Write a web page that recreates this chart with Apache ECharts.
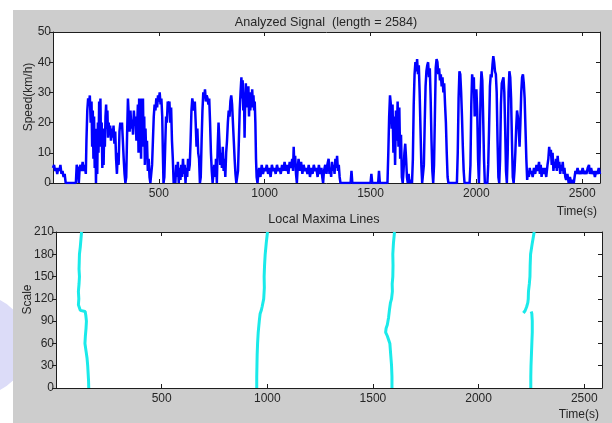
<!DOCTYPE html>
<html><head><meta charset="utf-8">
<script src="https://cdn.jsdelivr.net/npm/echarts@6/dist/echarts.min.js"></script>
<style>html,body{margin:0;padding:0;background:#fff}#c{width:612px;height:423px}</style>
</head><body><div id="c"></div>
<script>
// ---------- DATA ----------
// Analyzed signal: time (s) and speed (km/h)
const signalTime = [
0,5,10,15,20,25,30,35,40,45,50,55,60,108,112,118,122,126,130,135,140,145,150,155,
158,162,166,170,174,178,182,185,188,191,194,197,200,203,206,209,212,215,218,221,224,227,230,233,236,239,
242,245,248,251,254,257,260,263,266,270,274,278,282,286,290,294,298,302,306,310,314,318,322,326,330,334,338,342,346,350,354,358,
362,366,370,374,378,382,386,390,394,398,401,404,407,410,413,416,419,422,425,428,431,434,437,
440,444,448,452,456,460,464,468,472,476,480,484,488,492,496,500,504,508,512,516,519,522,526,530,
534,538,542,546,550,554,558,562,566,570,574,578,582,586,590,594,598,602,606,610,614,618,622,626,630,634,638,642,646,
650,654,658,662,666,670,674,678,682,686,690,694,698,702,706,710,714,718,722,726,730,734,738,742,746,750,754,758,
762,766,770,774,778,782,786,790,794,798,802,806,810,814,818,822,826,830,834,838,842,846,850,854,858,862,866,870,874,
878,882,886,890,893,896,899,902,905,908,911,914,917,920,923,926,929,932,935,938,941,944,947,950,953,956,959,962,966,970,
974,980,986,992,998,1004,1010,1016,1022,1028,1034,1040,1046,1052,1058,1064,1070,1076,1082,1088,1094,1100,1106,1112,1118,1124,1130,1134,1137,1140,1144,1148,1152,1156,1160,1166,
1172,1178,1184,1190,1196,1202,1208,1214,1220,1226,1232,1238,1244,1250,1256,1262,1268,1272,1276,1280,1286,1292,1296,1302,1306,1310,1314,1318,1322,1326,1330,1334,1338,1342,1346,1350,1354,1358,
1406,1410,1414,1500,1504,1508,1536,1540,1544,1580,1584,1588,1592,1596,
1600,1604,1608,1612,1616,1620,1624,1628,1632,1636,1640,1644,1648,1652,1656,1660,1664,1668,1672,1676,1680,1684,1690,1696,
1700,1704,1708,1712,1716,1720,1724,1728,1732,1736,1740,1744,1748,1752,1756,1760,1764,1768,1772,1776,1780,1784,1788,1792,1796,
1800,1804,1808,1812,1816,1820,1824,1828,1832,1836,1840,1844,1848,1852,1856,1860,1864,1868,1908,1912,1916,1920,1924,1928,1932,1936,1940,1944,
1968,1972,1976,1980,1984,1988,1992,1996,2000,2004,2008,2012,2016,2020,2024,2028,2032,2036,2040,
2052,2056,2060,2064,2068,2072,2076,2080,2084,2088,2092,2096,2100,2104,2108,2112,2116,2120,2124,2128,2132,2136,2140,2144,
2148,2152,2156,2160,2164,2168,2172,2176,2180,2184,2188,2192,2196,2200,2204,2208,2212,2216,2220,2224,2228,2232,2236,2240,
2244,2248,2252,2256,2260,2266,2272,2278,2284,2290,2296,2300,2304,2308,2312,2318,2324,2330,2336,
2340,2344,2348,2352,2356,2360,2364,2368,2372,2376,2380,2384,2388,2392,2396,2400,2404,2408,2412,2416,
2420,2424,2430,2436,2442,2448,2454,2460,2464,2468,2472,2478,2484,2490,2496,2502,2508,2514,2520,2526,2532,2536,2542,2548,2554,2560,2566,2572,2578,2584
];
const signalSpeed = [
5,6,4,5,3,5,4,6,3,4,2,3,0,0,6,4,0,5,6,4,7,4,6,3,
14,24,28,26,29,20,27,12,24,8,22,5,18,0,14,3,20,10,27,15,28,12,20,5,14,6,
18,12,22,26,18,24,15,20,16,19,14,18,15,19,13,17,8,3,10,6,17,20,18,20,14,8,3,0,2,16,28,22,
17,24,18,21,16,24,19,22,14,20,26,10,28,16,24,8,28,18,28,12,22,6,18,
10,14,4,8,2,0,0,6,14,22,26,24,28,25,29,27,30,26,28,22,10,0,2,12,
22,20,27,24,27,20,25,14,8,0,3,0,6,2,7,0,5,1,6,2,8,3,6,0,5,2,8,4,6,
14,24,28,26,24,27,20,12,18,10,8,0,2,14,24,30,28,31,27,29,28,26,28,20,10,4,0,0,
6,2,8,0,12,20,14,6,10,5,12,4,8,2,10,14,20,24,22,27,29,26,20,14,8,3,0,0,4,
14,24,30,35,28,34,24,30,15,28,33,25,31,26,32,22,30,24,28,25,31,26,29,24,27,20,8,2,0,3,
5,2,6,3,5,4,6,3,5,2,6,4,5,3,6,4,5,3,6,4,7,4,6,3,7,5,8,4,12,6,9,3,0,5,8,4,
7,3,6,4,5,3,6,2,5,3,6,4,5,2,6,3,5,2,0,4,6,3,6,8,3,5,2,7,4,6,3,8,5,9,4,6,2,0,
0,4,0,0,3,0,0,4,0,0,10,22,29,26,
18,26,10,22,6,24,14,27,12,25,8,16,2,0,4,10,13,8,2,0,3,0,1,0,
8,26,36,40,37,41,36,39,30,18,6,0,0,6,20,32,37,39,40,35,38,28,14,4,0,
6,22,38,41,40,36,38,34,36,32,35,30,33,26,20,10,2,0,0,10,28,37,36,30,22,12,4,0,
0,6,26,36,33,35,22,28,31,24,8,0,12,30,37,34,22,8,0,
0,6,18,32,36,35,39,42,40,37,36,30,14,2,0,8,26,33,34,35,30,18,4,0,
10,30,37,35,28,14,2,0,4,10,18,24,22,18,12,20,30,35,36,33,28,18,8,1,
4,2,5,3,4,2,5,3,6,4,7,3,6,2,5,3,5,2,6,
8,12,9,11,6,10,4,7,5,8,4,9,5,7,3,6,4,7,3,5,
2,1,3,0,2,0,1,0,2,4,3,5,3,4,3,5,3,4,3,5,6,3,5,3,4,2,4,3,5,3
];
// Local maxima lines: scale and time (s)
const ridge1Scale = [0,10,20,30,40,50,60,70,80,90,98,103,104.5,106,112,120,130,140,150,160,170,180,190,200,210];
const ridge1Time  = [155,154,152,150,147,142,137,139,142,144,141,138,115,106,106,108,106,109,111,109,110,111,115,118,121];
const ridge2Scale = [0,15,30,45,60,75,90,100,105,110,120,135,150,165,180,195,210];
const ridge2Time  = [950,950,951,952,954,957,962,966,972,976,983,986,985,987,990,995,1001];
const ridge3Scale = [0,15,30,45,60,70,75,80,85,95,105,115,120,130,140,150,165,180,195,210];
const ridge3Time  = [1590,1590,1588,1584,1580,1568,1560,1562,1568,1574,1578,1583,1588,1592,1591,1594,1595,1594,1597,1602];
const ridge4aScale = [0,15,30,45,60,75,90,100,103];
const ridge4aTime  = [2247,2247,2248,2250,2252,2254,2254,2252,2249];
const ridge4bScale = [101,104,109,115,120,130,140,150,165,180,195,210];
const ridge4bTime  = [2212,2220,2227,2233,2235,2236,2240,2243,2244,2246,2254,2263];
// Tick settings
const timeTicks = [500,1000,1500,2000,2500];
const speedMax = 50, speedStep = 10;
const scaleMax = 210, scaleStep = 30;
const signalLength = 2584;

// ---------- CHART ----------
const FONT = '"Liberation Sans", Arial, sans-serif';
const AX = '#1e1e1e';
const TXT = '#262626';
function pairs(xs, ys) { return xs.map((x, i) => [x, ys[i]]); }

const grids = [
  {left: 53, top: 32, width: 547, height: 151},
  {left: 56, top: 232, width: 546, height: 156}
];
const txt = {color: TXT, fontSize: 12, fontFamily: FONT};

function xAxes(gi, namePad) {
  const base = {type: 'value', gridIndex: gi, min: 0, max: signalLength, interval: 500,
    splitLine: {show: false}, axisLine: {show: true, onZero: false, lineStyle: {color: AX, width: 1}},
    axisTick: {inside: true, length: 4, lineStyle: {color: AX}}};
  return [
    Object.assign({}, base, {position: 'bottom',
      axisLabel: Object.assign({margin: 5, formatter: v => timeTicks.includes(v) ? String(v) : ''}, txt),
      name: 'Time(s)', nameLocation: 'end', nameGap: -3, nameMoveOverlap: false,
      nameTextStyle: Object.assign({align: 'right', verticalAlign: 'top', padding: [namePad, 0, 0, 0]}, txt)}),
    Object.assign({}, base, {position: 'top', axisLabel: {show: false}})
  ];
}
function yAxes(gi, max, step, name, gap) {
  const base = {type: 'value', gridIndex: gi, min: 0, max: max, interval: step,
    splitLine: {show: false}, axisLine: {show: true, onZero: false, lineStyle: {color: AX, width: 1}}};
  return [
    Object.assign({}, base, {position: 'left',
      axisTick: {inside: false, length: 4, lineStyle: {color: AX}},
      axisLabel: Object.assign({margin: 2}, txt),
      name: name, nameLocation: 'middle', nameGap: gap, nameRotate: 90, nameMoveOverlap: false,
      nameTextStyle: Object.assign({padding: [0, 0, 0, 21]}, txt)}),
    Object.assign({}, base, {position: 'right',
      axisTick: {inside: true, length: 4, lineStyle: {color: AX}}, axisLabel: {show: false}})
  ];
}

const ridgeStyle = {type: 'line', xAxisIndex: 2, yAxisIndex: 2, showSymbol: false,
  lineStyle: {color: '#1aeaea', width: 3}, itemStyle: {color: '#1aeaea'}, animation: false};

const option = {
  animation: false,
  backgroundColor: '#ffffff',
  graphic: [
    {type: 'circle', shape: {cx: -22, cy: 345, r: 50}, style: {fill: '#dcdcf8'}, z: -20, silent: true},
    {type: 'rect', shape: {x: 13, y: 10, width: 599, height: 413}, style: {fill: '#cdcdcd'}, z: -10, silent: true}
  ],
  title: [
    {text: 'Analyzed Signal  (length = ' + signalLength + ')', left: 326, top: 16, textAlign: 'center', padding: 0,
      textStyle: Object.assign({}, txt, {fontWeight: 'normal', fontSize: 12.6})},
    {text: 'Local Maxima Lines', left: 324, top: 213, textAlign: 'center', padding: 0,
      textStyle: Object.assign({}, txt, {fontWeight: 'normal', fontSize: 12.6})}
  ],
  grid: grids.map(g => Object.assign({show: true, backgroundColor: '#ffffff', borderWidth: 0}, g)),
  xAxis: xAxes(0, 23).concat(xAxes(1, 21)),
  yAxis: yAxes(0, speedMax, speedStep, 'Speed(km/h)', 18).concat(yAxes(1, scaleMax, scaleStep, 'Scale', 22)),
  series: [
    {type: 'line', xAxisIndex: 0, yAxisIndex: 0, data: pairs(signalTime, signalSpeed), showSymbol: false,
      lineStyle: {color: '#0000ff', width: 2.5}, itemStyle: {color: '#0000ff'}, animation: false},
    Object.assign({data: pairs(ridge1Time, ridge1Scale)}, ridgeStyle),
    Object.assign({data: pairs(ridge2Time, ridge2Scale)}, ridgeStyle),
    Object.assign({data: pairs(ridge3Time, ridge3Scale)}, ridgeStyle),
    Object.assign({data: pairs(ridge4aTime, ridge4aScale)}, ridgeStyle),
    Object.assign({data: pairs(ridge4bTime, ridge4bScale)}, ridgeStyle)
  ]
};
const chart = echarts.init(document.getElementById('c'), null, {renderer: 'canvas'});
chart.setOption(option);
</script>
</body></html>
